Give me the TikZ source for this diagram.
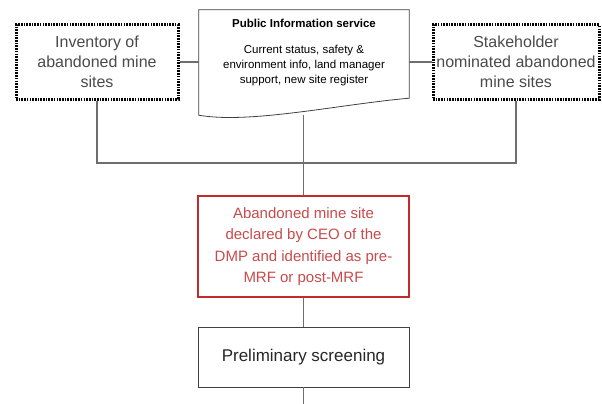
\documentclass[tikz,border=0pt]{standalone}
\usepackage{fontspec}
\setmainfont{Liberation Sans}
\usepackage{tikz}
\usetikzlibrary{positioning,calc}
\usepackage{xcolor}
\definecolor{Ink}{HTML}{4A4A4A}
\definecolor{Wire}{HTML}{6E6E6E}
\definecolor{Brick}{HTML}{C42A2A}
\definecolor{BrickText}{HTML}{C84A4A}
\tikzset{
  dotbox/.style={draw=black, line width=3pt, dash pattern=on 1.6pt off 1.1pt,
    minimum height=74pt, align=center, text=Ink,
    font=\fontsize{16}{20}\selectfont},
  plainbox/.style={draw=black!75, line width=0.8pt, minimum width=211pt,
    align=center, font=#1},
  plainbox/.default={\fontsize{17}{20}\selectfont},
  wire/.style={draw=Wire, line width=1.3pt},
}

\begin{document}
\begin{tikzpicture}[x=1pt,y=-1pt]
  \useasboundingbox (0,0) rectangle (602,404);
  \node[dotbox, minimum width=162pt] (inv) at (97,62)
    {Inventory of\\abandoned mine\\sites};
  \node[dotbox, minimum width=166pt] (stake) at (516,62)
    {Stakeholder\\nominated abandoned\\mine sites};
  \node[minimum width=210pt, minimum height=88pt, inner sep=0pt] (pis) at (304,54) {};
  \node[font=\fontsize{11.5}{14}\selectfont\bfseries] (pistitle) at (304,23)
    {Public Information service};
  \node[align=center, font=\fontsize{11.5}{15}\selectfont, below=11pt of pistitle]
    (pisbody) {Current status, safety \&\\environment info, land manager\\support, new site register};
  % document outline with wavy bottom
  \draw[draw=black!75, line width=0.8pt]
    (pis.north west) -- (pis.north east) -- (pis.south east)
    .. controls ($(pis.south east)+(-69,6)$) and ($(pis.south west)+(51,26)$) ..
    ($(pis.south west)+(0,17)$) -- cycle;
  \node[plainbox={\fontsize{15}{21.5}\selectfont}, draw=Brick, line width=2.4pt,
    text=BrickText, minimum height=101pt] (abd) at (303.5,246.5)
    {Abandoned mine site\\declared by CEO of the\\DMP and identified as pre-\\MRF or post-MRF};
  \node[plainbox, minimum height=60pt, text=black!85] (pre) at (303.5,357)
    {Preliminary screening};
  \coordinate (wavemid) at (303.5,114.5);
  \coordinate (join) at (303.5,163);
  \coordinate (out) at (303.5,404);
  \draw[wire] (inv.east) -- (inv.east -| pis.west);
  \draw[wire] (stake.west -| pis.east) -- (stake.west);
  \draw[wire] (inv.south) |- (join);
  \draw[wire] (stake.south) |- (join);
  \draw[wire] (wavemid) -- (abd.north);
  \draw[wire] (abd) -- (pre);
  \draw[wire] (pre) -- (out);
\end{tikzpicture}
\end{document}
